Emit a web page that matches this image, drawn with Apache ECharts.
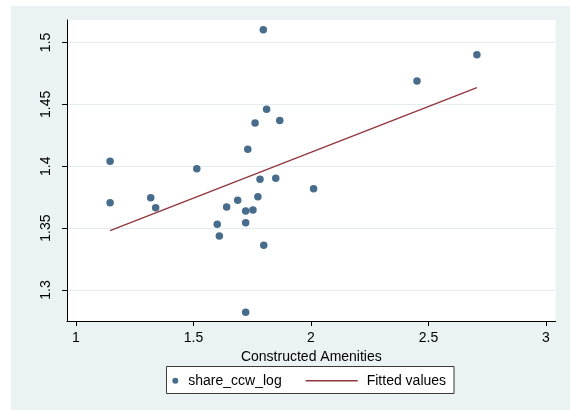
<!DOCTYPE html>
<html>
<head>
<meta charset="utf-8">
<script src="https://cdn.jsdelivr.net/npm/echarts@6/dist/echarts.min.js"></script>
<style>
  html, body { margin: 0; padding: 0; background: #fff; }
  #chart { width: 570px; height: 410px; }
</style>
</head>
<body>
<div id="chart"></div>
<script>
// Constructed amenities vs. log share (one point per observation)
const amenities = [
  1.145, 1.145, 1.318, 1.339, 1.514, 1.797, 1.811, 1.762, 1.867, 1.731,
  1.783, 1.850, 2.011, 1.774, 1.688, 1.641, 1.722, 1.753, 1.601, 1.722,
  1.610, 1.799, 1.722, 2.451, 2.706
];
const shareCcwLog = [
  1.404, 1.3705, 1.3746, 1.3665, 1.398, 1.5103, 1.446, 1.4349, 1.437, 1.4137,
  1.3894, 1.3902, 1.3818, 1.3754, 1.3725, 1.367, 1.3638, 1.3646, 1.3531, 1.3544,
  1.3436, 1.3361, 1.282, 1.4688, 1.490
];
// Linear fit, evaluated at the ends of the amenities range
const fitX = [1.145, 2.706];
const fitY = [1.348, 1.4634];

const xTicks = [1, 1.5, 2, 2.5, 3];
const yTicks = [1.3, 1.35, 1.4, 1.45, 1.5];

const font = '"Liberation Sans", Arial, Helvetica, sans-serif';
const navy = '#1a476f';
const maroon = '#90353b';

// thin horizontal bar centred in a 52x14 box, used as the fit-line legend key
const lineKey = 'path://M0,0 M0,6.3 L52,6.3 L52,7.7 L0,7.7 Z M52,14';

const chart = echarts.init(document.getElementById('chart'), null, { renderer: 'canvas' });

chart.setOption({
  backgroundColor: '#ffffff',
  animation: false,
  textStyle: { fontFamily: font },
  graphic: [
    { type: 'rect', z: -10, silent: true,
      shape: { x: 11, y: 6, width: 559, height: 404 },
      style: { fill: '#eaf2f3' } },
    { type: 'rect', z: 1, silent: true,
      shape: { x: 166.5, y: 366.5, width: 287.5, height: 27 },
      style: { fill: '#ffffff', stroke: '#3a3a3a', lineWidth: 1 } }
  ],
  grid: {
    left: 67, top: 20, right: 14.3, bottom: 89,
    show: true, backgroundColor: '#ffffff', borderWidth: 0
  },
  legend: [
    {
      data: ['share_ccw_log'],
      left: 172.3, top: 373.7, padding: 0,
      itemWidth: 6, itemHeight: 14, icon: 'circle',
      textStyle: { fontSize: 14, color: '#000', fontFamily: font, padding: [0, 0, 0, 5] },
      z: 5
    },
    {
      data: [{ name: 'Fitted values', icon: lineKey }],
      left: 305.7, top: 373.7, padding: 0,
      itemWidth: 52, itemHeight: 14,
      itemStyle: { color: maroon, borderWidth: 0 },
      textStyle: { fontSize: 14, color: '#000', fontFamily: font, padding: [0, 0, 0, 4] },
      z: 5
    }
  ],
  xAxis: {
    type: 'value',
    min: 0.9617, max: 3.0413,
    name: 'Constructed Amenities',
    nameLocation: 'middle', nameGap: 23,
    nameTextStyle: { fontSize: 14, color: '#000', fontFamily: font },
    axisLine: { show: true, onZero: false, lineStyle: { color: '#000', width: 1 } },
    axisTick: { show: true, length: 5, customValues: xTicks, lineStyle: { color: '#000' } },
    axisLabel: { customValues: xTicks, fontSize: 14, color: '#000', margin: 10, fontFamily: font },
    splitLine: { show: false }
  },
  yAxis: {
    type: 'value',
    min: 1.275, max: 1.5181,
    axisLine: { show: true, onZero: false, lineStyle: { color: '#000', width: 1 } },
    axisTick: { show: true, length: 5, customValues: yTicks, lineStyle: { color: '#000' } },
    axisLabel: { customValues: yTicks, rotate: 90, fontSize: 14, color: '#000', margin: 14, fontFamily: font },
    splitLine: { show: true, lineStyle: { color: '#e3edf0', width: 1 } }
  },
  series: [
    {
      name: 'share_ccw_log',
      type: 'scatter',
      symbol: 'circle',
      symbolSize: 7.5,
      itemStyle: { color: navy },
      data: amenities.map((x, i) => [x, shareCcwLog[i]]),
      z: 3
    },
    {
      name: 'Fitted values',
      type: 'line',
      showSymbol: false,
      symbol: 'none',
      lineStyle: { color: maroon, width: 1.3 },
      itemStyle: { color: maroon },
      data: fitX.map((x, i) => [x, fitY[i]]),
      z: 2
    }
  ]
});
</script>
</body>
</html>
